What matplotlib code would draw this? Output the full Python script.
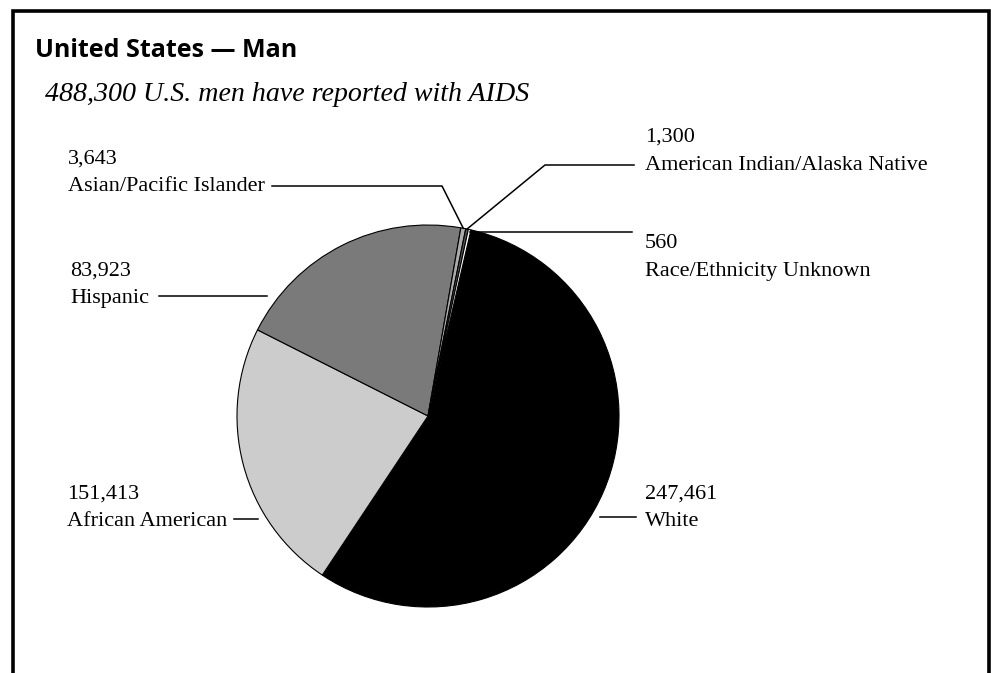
import matplotlib
matplotlib.use("Agg")
import matplotlib.pyplot as plt
import numpy as np
from matplotlib.patches import Rectangle

W, H = 991, 673

# ---- data ----
categories = ["White", "African American", "Hispanic", "Asian/Pacific Islander",
              "American Indian/Alaska Native", "Race/Ethnicity Unknown"]
counts = [247461, 151413, 83923, 3643, 1300, 560]
count_labels = ["247,461", "151,413", "83,923", "3,643", "1,300", "560"]
# share of the pie as drawn in the reference (degrees of arc)
wedge_share = [200.6, 83.2, 73.1, 1.5, 0.8, 0.8]
colors = ["#000000", "#cccccc", "#7a7a7a", "#ababab", "#555555", "#ffffff"]

title = "United States \u2014 Man"
subtitle = "488,300 U.S. men have reported with AIDS"

fig = plt.figure(figsize=(W / 100, H / 100), dpi=100)
fig.patch.set_facecolor("white")
ax = fig.add_axes([0, 0, 1, 1])

def Y(y):
    return H - y

cx, cy, R = 428, Y(416), 191
wedges, _ = ax.pie(wedge_share, colors=colors, startangle=77, counterclock=False,
                   center=(cx, cy), radius=R, frame=True,
                   wedgeprops=dict(edgecolor="black", linewidth=0.8))
ax.set_xlim(0, W)
ax.set_ylim(0, H)
ax.set_aspect("equal")
ax.axis("off")

def edge_pt(w, r=1.0):
    a = np.deg2rad((w.theta1 + w.theta2) / 2)
    return cx + R * r * np.cos(a), cy + R * r * np.sin(a)

lw = 1.1
serif = "Liberation Serif"
fs = 16

# Asian/Pacific Islander
px, py = edge_pt(wedges[3])
ax.plot([272, 442, px], [Y(186), Y(186), py], color="black", lw=lw)
ax.text(68, Y(164), count_labels[3], family=serif, fontsize=fs, va="baseline")
ax.text(68, Y(191), categories[3], family=serif, fontsize=fs, va="baseline")

# American Indian/Alaska Native
px, py = edge_pt(wedges[4])
ax.plot([634, 545, px], [Y(165), Y(165), py], color="black", lw=lw)
ax.text(645, Y(142), count_labels[4], family=serif, fontsize=fs, va="baseline")
ax.text(645, Y(170), categories[4], family=serif, fontsize=fs, va="baseline")

# Race/Ethnicity Unknown
px, py = edge_pt(wedges[5])
ax.plot([px, 632], [py - 2, py - 2], color="black", lw=lw)
ax.text(645, Y(248), count_labels[5], family=serif, fontsize=fs, va="baseline")
ax.text(645, Y(276), categories[5], family=serif, fontsize=fs, va="baseline")

# Hispanic
ax.plot([159, 267], [Y(296), Y(296)], color="black", lw=lw)
ax.text(70, Y(276), count_labels[2], family=serif, fontsize=fs, va="baseline")
ax.text(70, Y(303), categories[2], family=serif, fontsize=fs, va="baseline")

# African American
ax.plot([234, 258], [Y(519), Y(519)], color="black", lw=lw)
ax.text(67, Y(499), count_labels[1], family=serif, fontsize=fs, va="baseline")
ax.text(67, Y(526), categories[1], family=serif, fontsize=fs, va="baseline")

# White
ax.plot([600, 636], [Y(517), Y(517)], color="black", lw=lw)
ax.text(645, Y(499), count_labels[0], family=serif, fontsize=fs, va="baseline")
ax.text(645, Y(526), categories[0], family=serif, fontsize=fs, va="baseline")

# titles
ax.text(35, Y(57), title, family="Open Sans", fontweight="bold", fontsize=18,
        va="baseline")
ax.text(45, Y(101), subtitle, family=serif, style="italic", fontsize=20.2,
        va="baseline")

# frame (open at bottom)
ax.add_patch(Rectangle((12.5, -20), 976, Y(10.5) + 20, fill=False,
                       edgecolor="black", linewidth=2.6, clip_on=False))

fig.savefig("out.png", dpi=100)
